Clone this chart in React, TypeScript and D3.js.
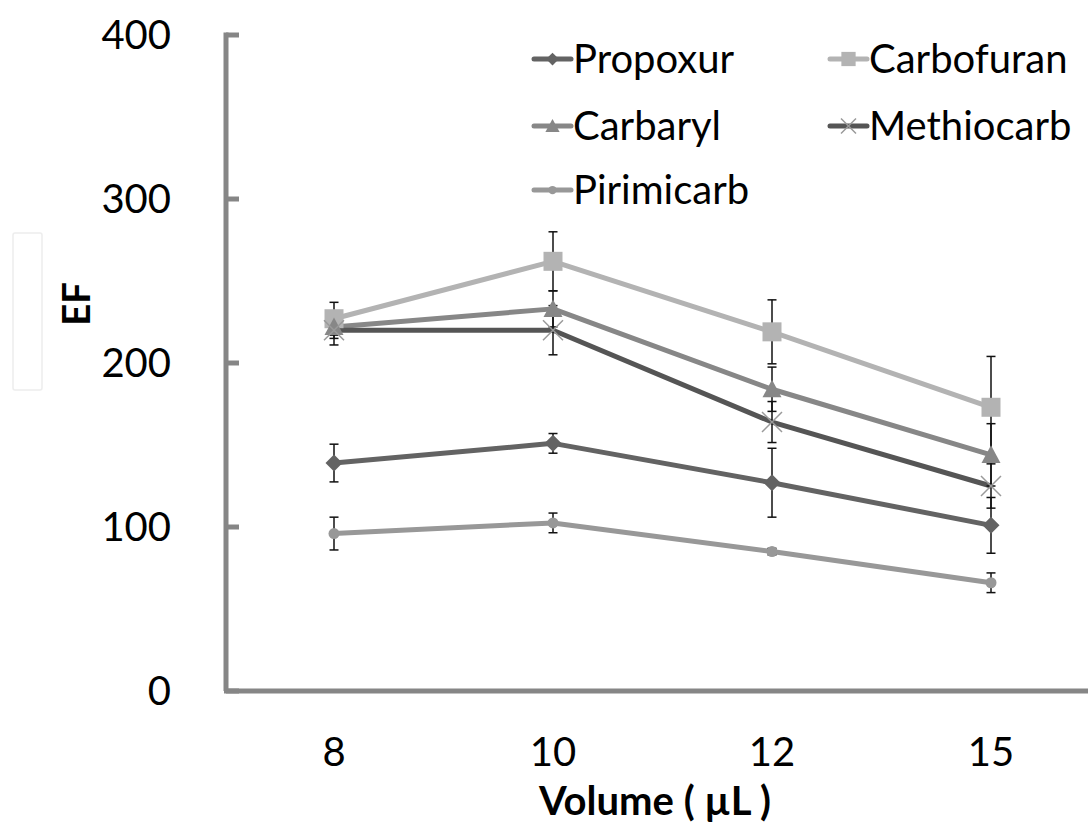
import React, { useEffect, useRef } from 'react';
import * as d3 from 'd3';

// x categories (volume, µL)
const volumes = ['8', '10', '12', '15'];
const yTicks = [0, 100, 200, 300, 400];

// EF values and error bars
const propoxur = [139, 151, 127, 101];
const propoxurErr = [11.5, 6, 21, 17];
const carbofuran = [227, 262, 219, 173];
const carbofuranErr = [10, 18, 19.5, 31];
const carbaryl = [222, 233, 184, 144];
const carbarylErr = [7, 11, 13.5, 19];
const methiocarb = [220, 220, 164, 125];
const methiocarbErr = [9, 15, 12.5, 13.5];
const pirimicarb = [96, 102.5, 85, 66];
const pirimicarbErr = [10, 6, 2, 6];

const seriesNames = ['Propoxur', 'Carbofuran', 'Carbaryl', 'Methiocarb', 'Pirimicarb'];

function App() {
  const ref = useRef<any>(null);

  const width = 1088;
  const height = 824;
  const font = 'Lato, "Open Sans", sans-serif';

  useEffect(function () {
    if (!ref.current) return;

    const svg = d3.select(ref.current);
    svg.selectAll('*').remove();

    const series = [
      { name: seriesNames[0], values: propoxur, err: propoxurErr, color: '#636363', marker: 'diamond' },
      { name: seriesNames[1], values: carbofuran, err: carbofuranErr, color: '#b3b3b3', marker: 'square' },
      { name: seriesNames[2], values: carbaryl, err: carbarylErr, color: '#878787', marker: 'triangle' },
      { name: seriesNames[3], values: methiocarb, err: methiocarbErr, color: '#555555', marker: 'x' },
      { name: seriesNames[4], values: pirimicarb, err: pirimicarbErr, color: '#989898', marker: 'circle' },
    ];

    const x = d3.scalePoint<string>().domain(volumes).range([224.5, 1100.5]).padding(0.5);
    const y = d3.scaleLinear().domain([0, 400]).range([691, 35]);

    // faint empty box on the left
    svg.append('rect')
      .attr('x', 13).attr('y', 233).attr('width', 29).attr('height', 157)
      .attr('rx', 2)
      .attr('fill', 'none').attr('stroke', '#ededed').attr('stroke-width', 1.5);

    const axisColor = '#868686';

    // y axis
    svg.append('line')
      .attr('x1', 226).attr('x2', 226)
      .attr('y1', y(400) - 2.5).attr('y2', y(0))
      .attr('stroke', axisColor).attr('stroke-width', 5);
    svg.selectAll('.ytick')
      .data(yTicks)
      .join('line')
      .attr('class', 'ytick')
      .attr('x1', 226).attr('x2', 239)
      .attr('y1', d => y(d)).attr('y2', d => y(d))
      .attr('stroke', axisColor).attr('stroke-width', 5);
    svg.selectAll('.ylabel')
      .data(yTicks)
      .join('text')
      .attr('class', 'ylabel')
      .attr('x', 171)
      .attr('y', d => y(d) + 14)
      .attr('text-anchor', 'end')
      .attr('font-family', font)
      .attr('font-size', 40)
      .attr('fill', '#000')
      .text(d => d);

    // x axis
    svg.append('line')
      .attr('x1', 224).attr('x2', width)
      .attr('y1', y(0)).attr('y2', y(0))
      .attr('stroke', axisColor).attr('stroke-width', 5);
    svg.selectAll('.xlabel')
      .data(volumes)
      .join('text')
      .attr('class', 'xlabel')
      .attr('x', d => x(d) as number)
      .attr('y', 766)
      .attr('text-anchor', 'middle')
      .attr('font-family', font)
      .attr('font-size', 40)
      .attr('fill', '#000')
      .text(d => d);

    // axis titles
    svg.append('text')
      .attr('x', 655).attr('y', 815)
      .attr('text-anchor', 'middle')
      .attr('font-family', font).attr('font-weight', 'bold')
      .attr('font-size', 40)
      .text('Volume ( µL )');
    svg.append('text')
      .attr('transform', 'translate(90,304) rotate(-90)')
      .attr('text-anchor', 'middle')
      .attr('font-family', font).attr('font-weight', 'bold')
      .attr('font-size', 38)
      .text('EF');

    const line = d3.line<number>()
      .x((_d, i) => x(volumes[i]) as number)
      .y(d => y(d));

    // lines
    series.forEach(s => {
      svg.append('path')
        .attr('d', line(s.values) as string)
        .attr('fill', 'none')
        .attr('stroke', s.color)
        .attr('stroke-width', 5)
        .attr('stroke-linejoin', 'round');
    });

    // error bars
    series.forEach(s => {
      const g = svg.append('g').attr('stroke', '#111').attr('stroke-width', 1.5);
      s.values.forEach((v, i) => {
        const cx = x(volumes[i]) as number;
        const top = y(v + s.err[i]);
        const bot = y(v - s.err[i]);
        g.append('line').attr('x1', cx).attr('x2', cx).attr('y1', top).attr('y2', bot);
        g.append('line').attr('x1', cx - 4.5).attr('x2', cx + 4.5).attr('y1', top).attr('y2', top);
        g.append('line').attr('x1', cx - 4.5).attr('x2', cx + 4.5).attr('y1', bot).attr('y2', bot);
      });
    });

    function drawMarker(g: any, kind: string, cx: number, cy: number, color: string, scale: number) {
      if (kind === 'diamond') {
        const r = 8.5 * scale;
        g.append('path')
          .attr('d', `M${cx},${cy - r}L${cx + r},${cy}L${cx},${cy + r}L${cx - r},${cy}Z`)
          .attr('fill', color);
      } else if (kind === 'square') {
        const r = 9.5 * scale;
        g.append('rect')
          .attr('x', cx - r).attr('y', cy - r).attr('width', 2 * r).attr('height', 2 * r)
          .attr('fill', color);
      } else if (kind === 'triangle') {
        const r = 9.5 * scale;
        g.append('path')
          .attr('d', `M${cx},${cy - r}L${cx + r},${cy + r * 0.85}L${cx - r},${cy + r * 0.85}Z`)
          .attr('fill', color);
      } else if (kind === 'circle') {
        g.append('circle')
          .attr('cx', cx).attr('cy', cy).attr('r', 5.5 * scale)
          .attr('fill', color);
      } else if (kind === 'x') {
        const r = 10 * scale;
        g.append('path')
          .attr('d', `M${cx - r},${cy - r}L${cx + r},${cy + r}M${cx - r},${cy + r}L${cx + r},${cy - r}`)
          .attr('stroke', '#9a9a9a')
          .attr('stroke-width', 1.5)
          .attr('fill', 'none');
      }
    }

    // markers
    series.forEach(s => {
      const g = svg.append('g');
      s.values.forEach((v, i) => {
        drawMarker(g, s.marker, x(volumes[i]) as number, y(v), s.color, 1);
      });
    });

    // legend: two columns, three rows
    const legendCols = [534, 830];
    const legendRows = [59, 126, 190];
    series.forEach((s, i) => {
      const lx = legendCols[i % 2];
      const ly = legendRows[Math.floor(i / 2)];
      const g = svg.append('g');
      g.append('line')
        .attr('x1', lx).attr('x2', lx + 37)
        .attr('y1', ly).attr('y2', ly)
        .attr('stroke', s.color).attr('stroke-width', 5)
        .attr('stroke-linecap', 'round');
      drawMarker(g, s.marker, lx + 18.5, ly, s.color, 0.75);
      g.append('text')
        .attr('x', lx + 39)
        .attr('y', ly + 14)
        .attr('font-family', font)
        .attr('font-size', 40)
        .attr('fill', '#000')
        .text(s.name);
    });
  });

  return (
    <svg
      ref={ref}
      width={width}
      height={height}
      style={{ position: 'absolute', left: 0, top: 0, background: '#fff' }}
    />
  );
}

export default App;
